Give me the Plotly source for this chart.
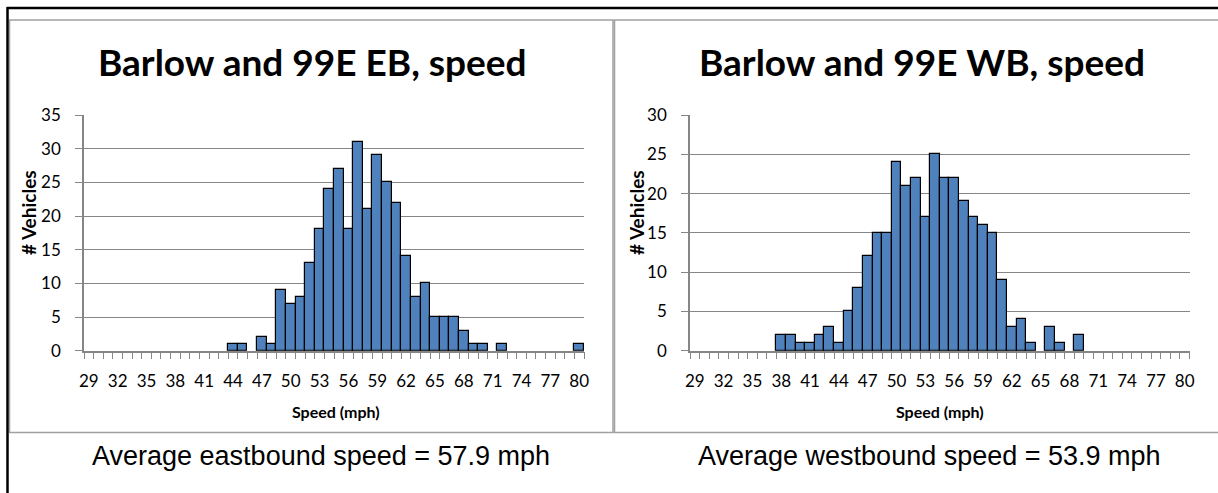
import plotly.graph_objects as go

# ---------------- data ----------------
speed_mph = [29, 30, 31, 32, 33, 34, 35, 36, 37, 38, 39, 40, 41, 42, 43, 44, 45, 46,
             47, 48, 49, 50, 51, 52, 53, 54, 55, 56, 57, 58, 59, 60, 61, 62, 63, 64,
             65, 66, 67, 68, 69, 70, 71, 72, 73, 74, 75, 76, 77, 78, 79, 80]
eb_vehicles = [0, 0, 0, 0, 0, 0, 0, 0, 0, 0, 0, 0, 0, 0, 0, 1, 1, 0,
               2, 1, 9, 7, 8, 13, 18, 24, 27, 18, 31, 21, 29, 25, 22, 14, 8, 10,
               5, 5, 5, 3, 1, 1, 0, 1, 0, 0, 0, 0, 0, 0, 0, 1]
wb_vehicles = [0, 0, 0, 0, 0, 0, 0, 0, 0, 2, 2, 1, 1, 2, 3, 1, 5, 8,
               12, 15, 15, 24, 21, 22, 17, 25, 22, 22, 19, 17, 16, 15, 9, 3, 4, 1,
               0, 3, 1, 0, 2, 0, 0, 0, 0, 0, 0, 0, 0, 0, 0, 0]
tick_labels = [29, 32, 35, 38, 41, 44, 47, 50, 53, 56, 59, 62, 65, 68, 71, 74, 77, 80]
titles = ["Barlow and 99E EB, speed", "Barlow and 99E WB, speed"]
captions = ["Average eastbound speed = 57.9 mph", "Average westbound speed = 53.9 mph"]
y_max = [35, 30]
x_title = "Speed (mph)"
y_title = "# Vehicles"

# ---------------- layout helpers ----------------
W, H = 1218, 493


def px(x):
    return x / W


def py(y):
    return 1 - y / H


BLUE = "#4F81BD"
GRID = "#868686"
FONT = "Lato, Carlito, Calibri, sans-serif"

panels = [
    dict(x0=84, x1=584, title_x=312, ylab_x=28, xt_x=336, cap_x=321,
         box=(9.5, 20, 613, 432.5)),
    dict(x0=690, x1=1189.5, title_x=922, ylab_x=636, xt_x=940, cap_x=929,
         box=(614.5, 20, 1230, 432.5)),
]
PLOT_TOP, PLOT_BOT = 115, 350.7

fig = go.Figure()
series = [eb_vehicles, wb_vehicles]
shapes = []
annotations = []
layout_axes = {}

for i, (p, counts) in enumerate(zip(panels, series)):
    n = "" if i == 0 else str(i + 1)
    fig.add_trace(go.Bar(
        x=speed_mph, y=counts, width=1,
        xaxis="x" + n, yaxis="y" + n,
        marker=dict(color=BLUE,
                    line=dict(color="#000000",
                              width=[1.2 if v else 0 for v in counts])),
        showlegend=False, hoverinfo="x+y",
    ))
    layout_axes["xaxis" + n] = dict(
        domain=[px(p["x0"]), px(p["x1"])],
        anchor="y" + n, automargin=False,
        range=[28.5, 80.5],
        tickmode="array", tickvals=tick_labels,
        ticktext=[str(t) for t in tick_labels],
        ticks="", showgrid=False, zeroline=False,
        showline=True, linecolor=GRID, linewidth=1.5,
        minor=dict(tickmode="linear", tick0=28.5, dtick=1, ticks="outside",
                   ticklen=7, tickcolor=GRID, tickwidth=1, showgrid=False),
        ticklabelstandoff=14,
        tickfont=dict(family=FONT, size=17, color="#000000"),
        fixedrange=True,
    )
    layout_axes["yaxis" + n] = dict(
        domain=[py(PLOT_BOT), py(PLOT_TOP)],
        anchor="x" + n, automargin=False,
        range=[0, y_max[i]], tickmode="linear", tick0=0, dtick=5,
        showgrid=True, gridcolor=GRID, gridwidth=1, zeroline=False,
        showline=True, linecolor=GRID, linewidth=1.5,
        ticks="outside", ticklen=7, tickcolor=GRID, tickwidth=1,
        ticklabelstandoff=11,
        tickfont=dict(family=FONT, size=17, color="#000000"),
        fixedrange=True,
    )
    bx0, by0, bx1, by1 = p["box"]
    shapes.append(dict(type="rect", xref="paper", yref="paper",
                       x0=px(bx0), x1=px(bx1), y0=py(by1), y1=py(by0),
                       line=dict(color="#A0A0A0", width=1.5), layer="below"))
    annotations.append(dict(text="<b>%s</b>" % titles[i], xref="paper", yref="paper",
                            x=px(p["title_x"]), y=py(62), showarrow=False,
                            xanchor="center", yanchor="middle",
                            font=dict(family=FONT, size=37, color="#000000")))
    annotations.append(dict(text="<b>%s</b>" % y_title, xref="paper", yref="paper",
                            x=px(p["ylab_x"]), y=py(213), showarrow=False, textangle=-90,
                            xanchor="center", yanchor="middle",
                            font=dict(family=FONT, size=19, color="#000000")))
    annotations.append(dict(text="<b>%s</b>" % x_title, xref="paper", yref="paper",
                            x=px(p["xt_x"]), y=py(411), showarrow=False,
                            xanchor="center", yanchor="middle",
                            font=dict(family=FONT, size=16, color="#000000")))
    annotations.append(dict(text=captions[i], xref="paper", yref="paper",
                            x=px(p["cap_x"]), y=py(456), showarrow=False,
                            xanchor="center", yanchor="middle",
                            font=dict(family="Liberation Sans, Arial, sans-serif",
                                      size=27, color="#000000")))

# outer black frame lines (top and left)
shapes.append(dict(type="line", xref="paper", yref="paper",
                   x0=px(7), x1=px(1230), y0=py(8), y1=py(8),
                   line=dict(color="#000000", width=2.5)))
shapes.append(dict(type="line", xref="paper", yref="paper",
                   x0=px(7.5), x1=px(7.5), y0=py(7), y1=py(500),
                   line=dict(color="#000000", width=2.5)))

fig.update_layout(
    template="none",
    width=W, height=H,
    margin=dict(l=0, r=0, t=0, b=0, pad=0, autoexpand=False),
    paper_bgcolor="#FFFFFF", plot_bgcolor="#FFFFFF",
    bargap=0, showlegend=False,
    shapes=shapes, annotations=annotations,
    **layout_axes,
)

fig.write_html(
    "out.html",
    config={"displayModeBar": False},
    post_script="document.body.style.margin='0';document.body.style.overflow='hidden';",
)
